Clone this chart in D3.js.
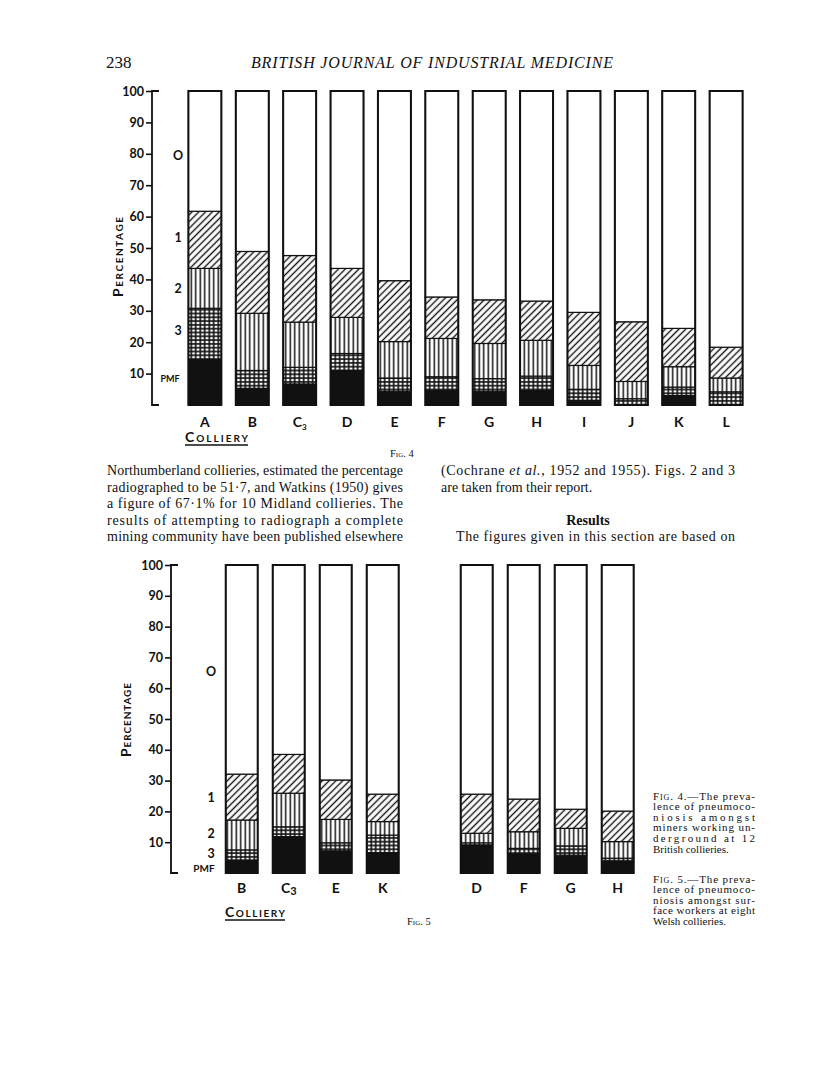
<!DOCTYPE html>
<html>
<head>
<meta charset="utf-8">
<script src="https://cdn.jsdelivr.net/npm/d3@7"></script>
<style>
  body { margin: 0; background: #fff; }
  svg { display: block; }
  .serif { font-family: "Liberation Serif", "Times New Roman", serif; fill: #111; }
  .sans { font-family: Lato, "DejaVu Sans", sans-serif; font-weight: 700; fill: #111; }
  .axis text { font-family: Lato, "DejaVu Sans", sans-serif; font-weight: 700; font-size: 12.5px; fill: #111; }
  .axis line { stroke: #111; stroke-width: 1.6; }
</style>
</head>
<body>
<svg id="page" width="816" height="1075"></svg>
<script>
// ---- Fig. 4: underground workers, 12 collieries (percent in each category, bottom up)
const fig4Collieries = ["A", "B", "C3", "D", "E", "F", "G", "H", "I", "J", "K", "L"];
const fig4Pmf  = [14.5, 5.3, 6.7, 11.0, 4.4, 4.7, 4.4, 4.6, 1.5, 0.0, 3.0, 0.0];
const fig4Cat3 = [16.3, 5.7, 5.3, 5.4, 4.2, 4.3, 4.0, 4.6, 3.5, 2.0, 2.7, 4.2];
const fig4Cat2 = [12.7, 18.2, 14.4, 11.5, 11.6, 12.2, 11.2, 11.4, 7.6, 5.5, 6.5, 4.4];
const fig4Cat1 = [18.2, 19.7, 21.2, 15.6, 19.4, 13.2, 13.9, 12.5, 16.9, 19.0, 12.2, 9.8];

// ---- Fig. 5: surface workers, 8 Welsh collieries
const fig5Collieries = ["B", "C3", "E", "K", "D", "F", "G", "H"];
const fig5Pmf  = [4.2, 11.8, 7.2, 6.6, 9.1, 6.2, 5.8, 3.7];
const fig5Cat3 = [3.3, 3.2, 2.6, 5.7, 0.7, 1.8, 3.0, 1.1];
const fig5Cat2 = [9.7, 10.9, 7.6, 4.4, 3.1, 5.4, 5.7, 5.4];
const fig5Cat1 = [14.9, 12.6, 12.8, 8.9, 12.7, 10.6, 6.2, 9.9];

const yTicks = [10, 20, 30, 40, 50, 60, 70, 80, 90, 100];
const categoryKeys = ["pmf", "c3", "c2", "c1", "c0"];
const categoryNames = ["PMF", "3", "2", "1", "O"];

const svg = d3.select("#page");
const defs = svg.append("defs");

// fills for the categories (scanned-print hatching)
function makePatterns() {
  const diag = defs.append("pattern").attr("id", "p-diag")
    .attr("patternUnits", "userSpaceOnUse").attr("width", 4.8).attr("height", 10)
    .attr("patternTransform", "rotate(45)");
  diag.append("rect").attr("width", 4.8).attr("height", 10).attr("fill", "#fff");
  diag.append("line").attr("x1", 2.4).attr("x2", 2.4).attr("y1", 0).attr("y2", 10)
    .attr("stroke", "#111").attr("stroke-width", 1.4);

  const vert = defs.append("pattern").attr("id", "p-vert")
    .attr("patternUnits", "userSpaceOnUse").attr("width", 4.5).attr("height", 10);
  vert.append("rect").attr("width", 4.5).attr("height", 10).attr("fill", "#fff");
  vert.append("line").attr("x1", 2.25).attr("x2", 2.25).attr("y1", 0).attr("y2", 10)
    .attr("stroke", "#111").attr("stroke-width", 1.5);

  const grid = defs.append("pattern").attr("id", "p-grid")
    .attr("patternUnits", "userSpaceOnUse").attr("width", 4.5).attr("height", 3.8);
  grid.append("rect").attr("width", 4.5).attr("height", 3.8).attr("fill", "#fff");
  grid.append("line").attr("x1", 2.25).attr("x2", 2.25).attr("y1", 0).attr("y2", 3.8)
    .attr("stroke", "#111").attr("stroke-width", 1.7);
  grid.append("line").attr("x1", 0).attr("x2", 4.5).attr("y1", 1.9).attr("y2", 1.9)
    .attr("stroke", "#111").attr("stroke-width", 1.6);
}
makePatterns();

const fills = { pmf: "#111", c3: "url(#p-grid)", c2: "url(#p-vert)", c1: "url(#p-diag)", c0: "#fff" };

function collieryLabel(sel, subSize, subShift) {
  sel.each(function (d) {
    const t = d3.select(this);
    if (d === "C3") {
      t.text("C");
      t.append("tspan").attr("font-size", subSize).attr("dy", subShift).text("3");
    } else {
      t.text(d);
    }
  });
}

function drawFigure(cfg) {
  const g = svg.append("g");
  const x = cfg.x, y = cfg.y;

  const rows = cfg.collieries.map((name, i) => {
    const r = { name: name, pmf: cfg.pmf[i], c3: cfg.c3[i], c2: cfg.c2[i], c1: cfg.c1[i] };
    r.c0 = 100 - r.pmf - r.c3 - r.c2 - r.c1;
    return r;
  });
  const layers = d3.stack().keys(categoryKeys)(rows);

  g.selectAll(".layer")
    .data(layers)
    .join("g")
    .attr("class", "layer")
    .attr("fill", (d) => fills[d.key])
    .selectAll("rect")
    .data((d) => d)
    .join("rect")
    .attr("x", (d) => x(d.data.name))
    .attr("y", (d) => y(d[1]))
    .attr("width", x.bandwidth())
    .attr("height", (d) => y(d[0]) - y(d[1]))
    .attr("stroke", "#111")
    .attr("stroke-width", 1.2);

  // bar outlines
  g.selectAll(".outline")
    .data(rows)
    .join("rect")
    .attr("class", "outline")
    .attr("x", (d) => x(d.name))
    .attr("y", y(100))
    .attr("width", x.bandwidth())
    .attr("height", y(0) - y(100))
    .attr("fill", "none")
    .attr("stroke", "#111")
    .attr("stroke-width", 2);

  // y axis
  const axisG = g.append("g")
    .attr("class", "axis")
    .attr("transform", `translate(${cfg.axisX},0)`)
    .call(d3.axisLeft(y).tickValues(yTicks).tickSize(6).tickPadding(2).tickFormat(d3.format("d")));
  axisG.select(".domain").remove();
  g.append("path")
    .attr("d", `M${cfg.axisX + 7},${y(100)}H${cfg.axisX}V${y(0)}H${cfg.axisX + 7}`)
    .attr("fill", "none")
    .attr("stroke", "#111")
    .attr("stroke-width", 1.8);

  // category key beside the axis
  g.selectAll(".key")
    .data(categoryNames)
    .join("text")
    .attr("class", "sans")
    .attr("x", (d) => (d === "PMF" ? cfg.pmfX : cfg.keyX))
    .attr("y", (d, i) => y(cfg.keyAt[i]))
    .attr("dy", "0.35em")
    .attr("text-anchor", "middle")
    .attr("font-size", (d) => (d === "PMF" ? cfg.pmfSize : 12.5))
    .text((d) => d);

  // colliery labels
  g.selectAll(".xlab")
    .data(cfg.collieries)
    .join("text")
    .attr("class", "sans")
    .attr("x", (d) => x(d) + x.bandwidth() / 2)
    .attr("y", cfg.xLabelY)
    .attr("text-anchor", "middle")
    .attr("font-size", 14)
    .call(collieryLabel, cfg.subSize, cfg.subShift);

  // axis title
  g.append("text")
    .attr("class", "sans")
    .attr("transform", `translate(${cfg.titleX},${cfg.titleY}) rotate(-90)`)
    .attr("text-anchor", "middle")
    .attr("font-size", 14)
    .style("font-variant", "small-caps")
    .attr("textLength", cfg.titleLen)
    .text("Percentage");

  g.append("text")
    .attr("class", "sans")
    .attr("x", cfg.collX)
    .attr("y", cfg.collY)
    .attr("font-size", 14)
    .style("font-variant", "small-caps")
    .attr("textLength", cfg.collLen)
    .text("Colliery");
  g.append("line")
    .attr("x1", cfg.collX).attr("x2", cfg.collX + cfg.collLen)
    .attr("y1", cfg.collY + 3).attr("y2", cfg.collY + 3)
    .attr("stroke", "#111").attr("stroke-width", 1.3);
}

// Fig. 4
drawFigure({
  collieries: fig4Collieries, pmf: fig4Pmf, c3: fig4Cat3, c2: fig4Cat2, c1: fig4Cat1,
  x: d3.scaleBand().domain(fig4Collieries).range([174, 757]).paddingInner(0.304).paddingOuter(0.304),
  y: d3.scaleLinear().domain([0, 100]).range([405, 91]),
  axisX: 152, keyX: 178, pmfX: 170, pmfSize: 9,
  keyAt: [8.3, 23.6, 37, 53.2, 79.3],
  xLabelY: 427, subSize: 8, subShift: 3,
  titleX: 123, titleY: 257, titleLen: 80,
  collX: 185, collY: 442, collLen: 63
});

// Fig. 5 (gap between the two groups of four)
const fig5Slots = [...fig5Collieries.slice(0, 4), "gap", ...fig5Collieries.slice(4)];
drawFigure({
  collieries: fig5Collieries, pmf: fig5Pmf, c3: fig5Cat3, c2: fig5Cat2, c1: fig5Cat1,
  x: d3.scaleBand().domain(fig5Slots).range([210.7, 648.7]).paddingInner(0.32).paddingOuter(0.32),
  y: d3.scaleLinear().domain([0, 100]).range([873, 565]),
  axisX: 171, keyX: 211, pmfX: 204, pmfSize: 10,
  keyAt: [1.6, 6.2, 12.7, 24.4, 65.3],
  xLabelY: 893, subSize: 11, subShift: 2,
  titleX: 130.5, titleY: 720, titleLen: 74,
  collX: 225, collY: 917, collLen: 60
});

// ---- page text
function line(txt, xPos, yPos, size, width, extra) {
  const t = svg.append("text").attr("class", "serif")
    .attr("x", xPos).attr("y", yPos).attr("font-size", size);
  if (width) t.attr("textLength", width).attr("lengthAdjust", "spacing");
  if (extra) extra(t);
  t.text(txt);
  return t;
}

line("238", 106, 68, 17);
line("BRITISH JOURNAL OF INDUSTRIAL MEDICINE", 251, 68, 16, 362, (t) => t.style("font-style", "italic"));

// figure marks under the charts
line("Fig. 4", 390, 457, 10.5, null, (t) => t.style("font-variant", "small-caps"));
line("Fig. 5", 407, 925, 10.5, null, (t) => t.style("font-variant", "small-caps"));

const leftCol = [
  "Northumberland collieries, estimated the percentage",
  "radiographed to be 51·7, and Watkins (1950) gives",
  "a figure of 67·1% for 10 Midland collieries.  The",
  "results of attempting to radiograph a complete",
  "mining community have been published elsewhere"
];
leftCol.forEach((s, i) => line(s, 107, 475 + i * 16.6, 14, 296));

const rc1 = svg.append("text").attr("class", "serif").attr("x", 441).attr("y", 475)
  .attr("font-size", 14).attr("textLength", 294).attr("lengthAdjust", "spacing");
rc1.append("tspan").text("(Cochrane ");
rc1.append("tspan").style("font-style", "italic").text("et al.");
rc1.append("tspan").text(", 1952 and 1955).  Figs. 2 and 3");
line("are taken from their report.", 441, 491.6, 14);
line("Results", 588, 524.8, 14, null, (t) => t.attr("text-anchor", "middle").attr("font-weight", 700));
line("The figures given in this section are based on", 456, 541.4, 14, 279);

// figure legends at right
const cap4 = [
  "Fig. 4.\u2014The preva-",
  "lence of pneumoco-",
  "niosis amongst",
  "miners working un-",
  "derground at 12",
  "British collieries."
];
const cap5 = [
  "Fig. 5.\u2014The preva-",
  "lence of pneumoco-",
  "niosis amongst sur-",
  "face workers at eight",
  "Welsh collieries."
];
function caption(lines, top) {
  lines.forEach((s, i) => {
    const last = i === lines.length - 1;
    const t = svg.append("text").attr("class", "serif")
      .attr("x", 653).attr("y", top + i * 10.6).attr("font-size", 11);
    if (!last) t.attr("textLength", 102).attr("lengthAdjust", "spacing");
    if (i === 0) {
      t.append("tspan").style("font-variant", "small-caps").text(s.slice(0, 3));
      t.append("tspan").text(s.slice(3));
    } else {
      t.text(s);
    }
  });
}
caption(cap4, 799.5);
caption(cap5, 882.5);
</script>
</body>
</html>
